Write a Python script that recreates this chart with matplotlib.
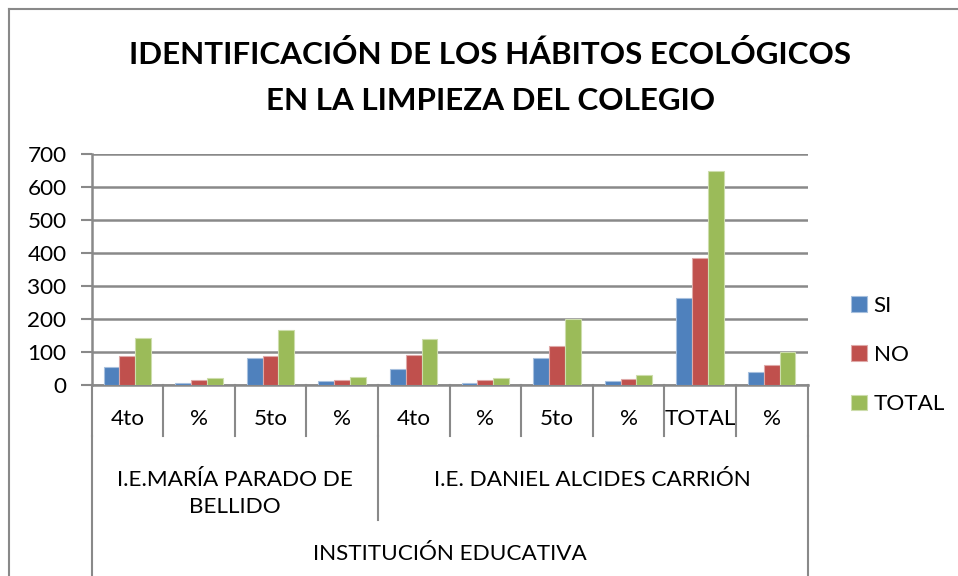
import numpy as np
import matplotlib
matplotlib.use("Agg")
import matplotlib.pyplot as plt
from matplotlib.transforms import blended_transform_factory

# ---- data ----
categories = ["4to", "%", "5to", "%", "4to", "%", "5to", "%", "TOTAL", "%"]
groups = ["I.E.MARÍA PARADO DE\nBELLIDO", "I.E. DANIEL ALCIDES CARRIÓN"]
group_spans = [(0, 4), (4, 10)]
outer_label = "INSTITUCIÓN EDUCATIVA"
series_names = ["SI", "NO", "TOTAL"]
si = [53, 6, 80, 12, 49, 6, 80, 13, 262, 38]
no = [88, 14, 86, 14, 89, 14, 119, 18, 384, 61]
total = [142, 21, 165, 25, 140, 20, 198, 30, 647, 100]
yticks = [0, 100, 200, 300, 400, 500, 600, 700]

colors = ["#4F81BD", "#C0504D", "#9BBB59"]
edges = ["#A7C0DE", "#DFA9A8", "#CDDDAC"]
GRID_C = "#898989"
FONT = "Lato"
FS = 16.2
plt.rcParams["font.family"] = [FONT, "DejaVu Sans"]

W, H = 958, 576
fig = plt.figure(figsize=(W / 100, H / 100), dpi=100)
fx = lambda px: px / W
fy = lambda py: 1 - py / H

x0, x1, ytop, ybot = 91.5, 807.5, 153.7, 384.8
ax = fig.add_axes([fx(x0), fy(ybot), fx(x1) - fx(x0), (ybot - ytop) / H])
ax.set_xlim(0, len(categories))
ax.set_ylim(0, 700)

bw = 0.22
x = np.arange(len(categories)) + 0.5
for k, vals in enumerate([si, no, total]):
    ax.bar(x + (k - 1) * bw, vals, bw, color=colors[k], edgecolor=edges[k],
           linewidth=0.8, label=series_names[k], zorder=3)

ax.set_yticks(yticks)
ax.yaxis.grid(True, color=GRID_C, linewidth=1.8, zorder=0)
ax.tick_params(axis="y", length=8, width=1.5, color=GRID_C, labelsize=FS, pad=10)
ax.set_xticks([])
for s in ("top", "right"):
    ax.spines[s].set_visible(False)
for s in ("left", "bottom"):
    ax.spines[s].set_color(GRID_C)
    ax.spines[s].set_linewidth(1.8)

# multi-level category axis
tr = blended_transform_factory(ax.transData, fig.transFigure)
lk = dict(color=GRID_C, linewidth=1.5, transform=tr, clip_on=False)
for i in range(len(categories) + 1):
    ax.plot([i, i], [fy(ybot), fy(436)], **lk)
    if i < len(categories):
        ax.text(i + 0.5, fy(419), categories[i], ha="center", va="center",
                fontsize=FS, transform=tr)
ax.plot([4, 4], [fy(436), fy(520)], **lk)
ax.plot([0, 0], [fy(436), 0], **lk)
ax.plot([10, 10], [fy(436), 0], **lk)
for (a, b), g in zip(group_spans, groups):
    ax.text((a + b) / 2, fy(470), g, ha="center", va="top", fontsize=FS,
            linespacing=1.45, transform=tr)
ax.text(5, fy(554), outer_label, ha="center", va="center", fontsize=FS,
        transform=tr)

# chart border (left & top visible)
fig.add_artist(plt.Line2D([fx(9), fx(9)], [0, fy(9)], color=GRID_C, lw=1.5))
fig.add_artist(plt.Line2D([fx(9), 1], [fy(9), fy(9)], color=GRID_C, lw=1.5))

fig.text(0.512, fy(55), "IDENTIFICACIÓN DE LOS HÁBITOS ECOLÓGICOS",
         ha="center", va="center", fontsize=22.6, fontweight="bold")
fig.text(0.512, fy(101), "EN LA LIMPIEZA DEL COLEGIO",
         ha="center", va="center", fontsize=22.6, fontweight="bold")

ax.legend(loc="center left", bbox_to_anchor=(fx(831), fy(355)),
          bbox_transform=fig.transFigure, frameon=False, fontsize=FS,
          handlelength=0.7, handleheight=0.7, handletextpad=0.3,
          labelspacing=1.3)

fig.savefig("out.png", dpi=100)
